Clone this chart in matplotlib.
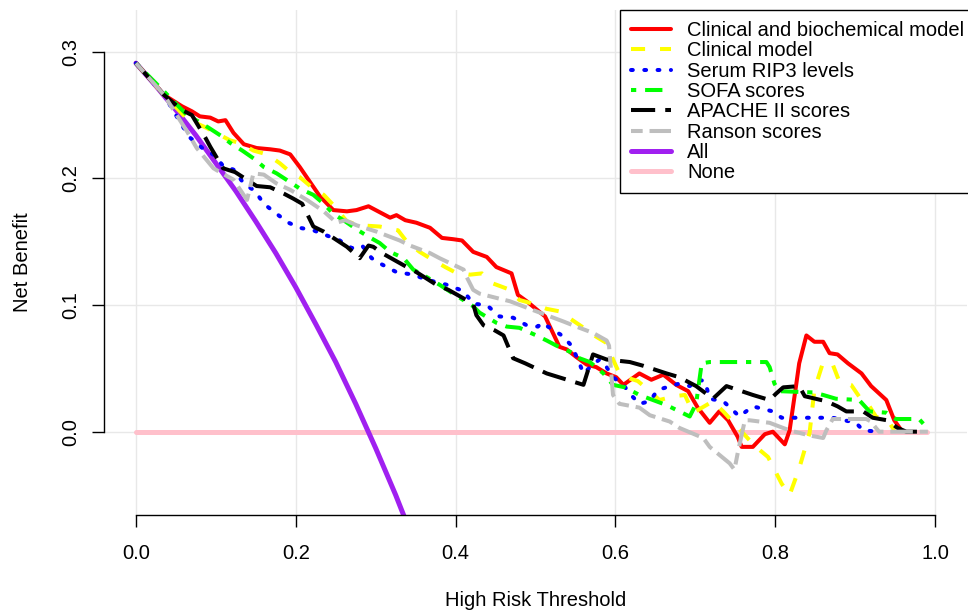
import matplotlib
matplotlib.use("Agg")
import matplotlib.pyplot as plt

plt.rcParams['font.family'] = ['Liberation Sans', 'DejaVu Sans']

# thresholds / net benefit
red_t = [0.0, 0.035, 0.0575, 0.070, 0.080, 0.093, 0.103, 0.112, 0.122, 0.135, 0.151, 0.168, 0.180, 0.193, 0.205,
         0.218, 0.230, 0.247, 0.264, 0.276, 0.291, 0.303, 0.318, 0.326, 0.337, 0.351, 0.368, 0.383, 0.397, 0.408,
         0.422, 0.439, 0.451, 0.470, 0.478, 0.489, 0.512, 0.530, 0.539, 0.551, 0.564, 0.576, 0.589, 0.601, 0.610,
         0.630, 0.645, 0.660, 0.676, 0.691, 0.703, 0.718, 0.730, 0.741, 0.753, 0.758, 0.772, 0.787, 0.797, 0.812,
         0.818, 0.826, 0.830, 0.839, 0.849, 0.860, 0.868, 0.878, 0.891, 0.908, 0.920, 0.939, 0.949, 0.958]
red_nb = [0.291, 0.266, 0.257, 0.253, 0.249, 0.248, 0.245, 0.246, 0.236, 0.227, 0.224, 0.223, 0.222, 0.219, 0.209,
          0.197, 0.186, 0.175, 0.174, 0.175, 0.178, 0.174, 0.169, 0.171, 0.167, 0.165, 0.161, 0.153, 0.152, 0.151,
          0.142, 0.138, 0.130, 0.125, 0.108, 0.103, 0.091, 0.067, 0.065, 0.059, 0.053, 0.051, 0.046, 0.043, 0.037,
          0.046, 0.041, 0.045, 0.037, 0.032, 0.019, 0.007, 0.016, 0.009, -0.004, -0.012, -0.012, -0.002, 0.000, -0.010,
          0.001, 0.036, 0.054, 0.076, 0.071, 0.071, 0.062, 0.061, 0.054, 0.046, 0.036, 0.025, 0.009, 0.001]

yel_t = [0.0, 0.035, 0.064, 0.088, 0.118, 0.130, 0.147, 0.164, 0.180, 0.193, 0.205, 0.220, 0.235, 0.247, 0.264,
         0.280, 0.305, 0.328, 0.339, 0.355, 0.368, 0.387, 0.399, 0.418, 0.433, 0.447, 0.464, 0.480, 0.497, 0.514,
         0.530, 0.558, 0.576, 0.589, 0.597, 0.605, 0.618, 0.628, 0.643, 0.655, 0.674, 0.687, 0.697, 0.703, 0.722,
         0.735, 0.774, 0.791, 0.808, 0.818, 0.830, 0.843, 0.849, 0.860, 0.872, 0.880, 0.895, 0.908, 0.918, 0.926,
         0.943, 0.949]
yel_nb = [0.291, 0.266, 0.247, 0.240, 0.230, 0.228, 0.222, 0.219, 0.212, 0.205, 0.201, 0.193, 0.187, 0.179, 0.166,
          0.163, 0.162, 0.159, 0.150, 0.142, 0.137, 0.130, 0.126, 0.124, 0.125, 0.117, 0.113, 0.104, 0.101, 0.097,
          0.095, 0.083, 0.075, 0.070, 0.057, 0.046, 0.042, 0.040, 0.032, 0.025, 0.028, 0.029, 0.015, 0.017, 0.024,
          0.016, -0.011, -0.020, -0.041, -0.050, -0.029, -0.001, 0.033, 0.055, 0.053, 0.040, 0.037, 0.025, 0.020, 0.012,
          0.007, 0.001]

blu_t = [0.0, 0.035, 0.0575, 0.068, 0.083, 0.099, 0.110, 0.122, 0.135, 0.149, 0.160, 0.176, 0.191, 0.205, 0.222,
         0.255, 0.270, 0.283, 0.295, 0.308, 0.326, 0.347, 0.364, 0.389, 0.410, 0.422, 0.439, 0.455, 0.472, 0.489,
         0.503, 0.508, 0.518, 0.533, 0.545, 0.553, 0.560, 0.572, 0.580, 0.589, 0.597, 0.610, 0.618, 0.630, 0.643,
         0.653, 0.680, 0.693, 0.703, 0.712, 0.718, 0.735, 0.747, 0.755, 0.772, 0.797, 0.808, 0.872, 0.901, 0.910,
         0.930]
blu_nb = [0.291, 0.266, 0.242, 0.232, 0.224, 0.218, 0.209, 0.207, 0.196, 0.190, 0.180, 0.172, 0.165, 0.161, 0.159,
          0.151, 0.145, 0.147, 0.137, 0.132, 0.126, 0.124, 0.120, 0.116, 0.111, 0.101, 0.100, 0.091, 0.090, 0.084,
          0.083, 0.086, 0.082, 0.076, 0.068, 0.057, 0.046, 0.053, 0.057, 0.051, 0.043, 0.037, 0.030, 0.022, 0.024,
          0.033, 0.038, 0.036, 0.041, 0.040, 0.026, 0.024, 0.017, 0.012, 0.020, 0.016, 0.011, 0.011, 0.007, 0.001,
          0.0]

grn_t = [0.0, 0.030, 0.064, 0.078, 0.091, 0.108, 0.118, 0.133, 0.149, 0.160, 0.176, 0.193, 0.205, 0.222, 0.235,
         0.247, 0.262, 0.278, 0.291, 0.305, 0.318, 0.335, 0.347, 0.364, 0.380, 0.397, 0.422, 0.430, 0.451, 0.464,
         0.480, 0.501, 0.514, 0.526, 0.547, 0.555, 0.568, 0.585, 0.597, 0.612, 0.630, 0.647, 0.664, 0.680, 0.693,
         0.701, 0.708, 0.718, 0.789, 0.793, 0.799, 0.805, 0.847, 0.860, 0.876, 0.905, 0.918, 0.939, 0.951, 0.980,
         0.990]
grn_nb = [0.291, 0.272, 0.250, 0.245, 0.240, 0.233, 0.228, 0.222, 0.215, 0.209, 0.204, 0.197, 0.192, 0.187, 0.180,
          0.172, 0.166, 0.159, 0.154, 0.149, 0.142, 0.137, 0.128, 0.122, 0.116, 0.109, 0.099, 0.094, 0.086, 0.083,
          0.082, 0.076, 0.072, 0.068, 0.062, 0.058, 0.055, 0.046, 0.037, 0.035, 0.029, 0.025, 0.021, 0.016, 0.012,
          0.022, 0.054, 0.055, 0.055, 0.051, 0.038, 0.032, 0.031, 0.029, 0.026, 0.025, 0.016, 0.015, 0.010, 0.010,
          0.003]

blk_t = [0.0, 0.035, 0.0575, 0.070, 0.087, 0.093, 0.109, 0.124, 0.151, 0.168, 0.185, 0.197, 0.208, 0.222, 0.235,
         0.264, 0.280, 0.291, 0.297, 0.308, 0.339, 0.351, 0.376, 0.391, 0.422, 0.426, 0.435, 0.449, 0.460, 0.472,
         0.487, 0.514, 0.560, 0.564, 0.572, 0.589, 0.618, 0.635, 0.664, 0.680, 0.701, 0.722, 0.739, 0.772, 0.793,
         0.801, 0.810, 0.830, 0.837, 0.864, 0.878, 0.889, 0.910, 0.922, 0.940, 0.953, 0.964, 0.989]
blk_nb = [0.291, 0.266, 0.254, 0.250, 0.232, 0.225, 0.208, 0.205, 0.194, 0.193, 0.188, 0.184, 0.180, 0.162, 0.158,
          0.146, 0.137, 0.147, 0.146, 0.141, 0.130, 0.126, 0.116, 0.112, 0.101, 0.092, 0.084, 0.080, 0.076, 0.058,
          0.054, 0.046, 0.037, 0.045, 0.061, 0.057, 0.055, 0.052, 0.046, 0.043, 0.036, 0.026, 0.036, 0.029, 0.025,
          0.030, 0.035, 0.036, 0.028, 0.024, 0.020, 0.016, 0.016, 0.011, 0.009, 0.003, 0.0, 0.0]

gry_t = [0.0, 0.035, 0.064, 0.076, 0.097, 0.105, 0.122, 0.139, 0.147, 0.160, 0.176, 0.193, 0.214, 0.235, 0.251,
         0.262, 0.276, 0.301, 0.330, 0.343, 0.368, 0.380, 0.410, 0.414, 0.422, 0.430, 0.455, 0.468, 0.497, 0.514,
         0.535, 0.551, 0.572, 0.589, 0.592, 0.597, 0.605, 0.630, 0.643, 0.668, 0.680, 0.710, 0.718, 0.743, 0.749,
         0.753, 0.762, 0.768, 0.793, 0.818, 0.843, 0.860, 0.864, 0.872, 0.914, 0.920, 0.926, 0.930, 0.991]
gry_nb = [0.291, 0.266, 0.237, 0.224, 0.208, 0.205, 0.199, 0.183, 0.204, 0.203, 0.196, 0.191, 0.183, 0.174, 0.165,
          0.167, 0.163, 0.158, 0.151, 0.147, 0.141, 0.137, 0.128, 0.122, 0.112, 0.109, 0.105, 0.103, 0.096, 0.092,
          0.087, 0.083, 0.078, 0.072, 0.068, 0.029, 0.022, 0.019, 0.013, 0.008, 0.003, -0.005, -0.012, -0.025, -0.030,
          -0.017, 0.009, 0.009, 0.007, 0.001, -0.003, -0.005, 0.001, 0.010, 0.010, 0.008, 0.003, 0.0, 0.0]

all_t = [0.0, 0.025, 0.05, 0.075, 0.1, 0.125, 0.15, 0.175, 0.2, 0.225, 0.25, 0.275, 0.3, 0.325, 0.34]
all_nb = [0.291, 0.273, 0.254, 0.234, 0.212, 0.190, 0.166, 0.141, 0.114, 0.085, 0.055, 0.022, -0.013, -0.050, -0.074]

none_t = [0.0, 0.99]
none_nb = [0.0, 0.0]

labels = ["Clinical and biochemical model", "Clinical model", "Serum RIP3 levels", "SOFA scores",
          "APACHE II scores", "Ranson scores", "All", "None"]

fig = plt.figure(figsize=(9.68, 6.14), dpi=100)
ax = fig.add_axes([104 / 968, 99 / 614, 863 / 968, 505 / 614])

ax.set_xlim(-0.04, 1.04)
ax.set_ylim(-0.0658, 0.333)
ax.grid(True, color='#E8E8E8', lw=1.0)
ax.set_axisbelow(True)

lw = 2.9
h_none, = ax.plot(none_t, none_nb, color='#FFC0CB', lw=3.6, solid_capstyle='round', zorder=2)
h_all, = ax.plot(all_t, all_nb, color='#A020F0', lw=3.6, solid_capstyle='round', solid_joinstyle='round', zorder=2)
h_red, = ax.plot(red_t, red_nb, color='#FF0000', lw=lw, solid_joinstyle='round', solid_capstyle='round', zorder=3)
h_yel, = ax.plot(yel_t, yel_nb, color='#FFFF00', lw=lw, dashes=(3.5, 3.7), dash_joinstyle='round', zorder=3)
h_blu, = ax.plot(blu_t, blu_nb, color='#0000FF', lw=lw, dashes=(0.45, 2.85), dash_capstyle='round',
                 dash_joinstyle='round', zorder=3)
h_grn, = ax.plot(grn_t, grn_nb, color='#00FF00', lw=lw, dashes=(1.3, 2.2, 4.3, 2.2), dash_joinstyle='round', zorder=3)
h_blk, = ax.plot(blk_t, blk_nb, color='black', lw=lw, dashes=(6.0, 2.5), dash_joinstyle='round', zorder=3)
h_gry, = ax.plot(gry_t, gry_nb, color='#BEBEBE', lw=lw, dashes=(2.9, 1.7, 5.6, 1.7), dash_joinstyle='round', zorder=3)

# R-style axes: only the tick range is drawn
for s in ['top', 'right']:
    ax.spines[s].set_visible(False)
ax.spines['left'].set_bounds(0, 0.3)
ax.spines['bottom'].set_bounds(0, 1.0)
ax.spines['left'].set_linewidth(1.0)
ax.spines['bottom'].set_linewidth(1.0)

ax.set_xticks([0.0, 0.2, 0.4, 0.6, 0.8, 1.0])
ax.set_xticklabels(["0.0", "0.2", "0.4", "0.6", "0.8", "1.0"])
ax.set_yticks([0.0, 0.1, 0.2, 0.3])
ax.set_yticklabels(["0.0", "0.1", "0.2", "0.3"])
ax.tick_params(axis='both', length=8.6, width=1.0, labelsize=14.5)
ax.tick_params(axis='x', pad=12)
ax.tick_params(axis='y', pad=8.5)
for lab in ax.get_yticklabels():
    lab.set_rotation(90)
    lab.set_va('center')
    lab.set_ha('right')

ax.set_xlabel("High Risk Threshold", fontsize=14.5, va='center')
ax.xaxis.set_label_coords(0.5, -(601 - 515) / 505)
ax.set_ylabel("Net Benefit", fontsize=14.5, va='center')
ax.yaxis.set_label_coords(-(104 - 22) / 863, 0.5)

leg = ax.legend([h_red, h_yel, h_blu, h_grn, h_blk, h_gry, h_all, h_none], labels,
                loc='upper right', bbox_to_anchor=(1.010, 1.0), borderaxespad=0, fontsize=14.5,
                handlelength=2.0, handletextpad=0.8, labelspacing=0.065, borderpad=0.55,
                fancybox=False, framealpha=1, edgecolor='black')
leg.get_frame().set_linewidth(1.0)

fig.savefig("out.png", dpi=100)
